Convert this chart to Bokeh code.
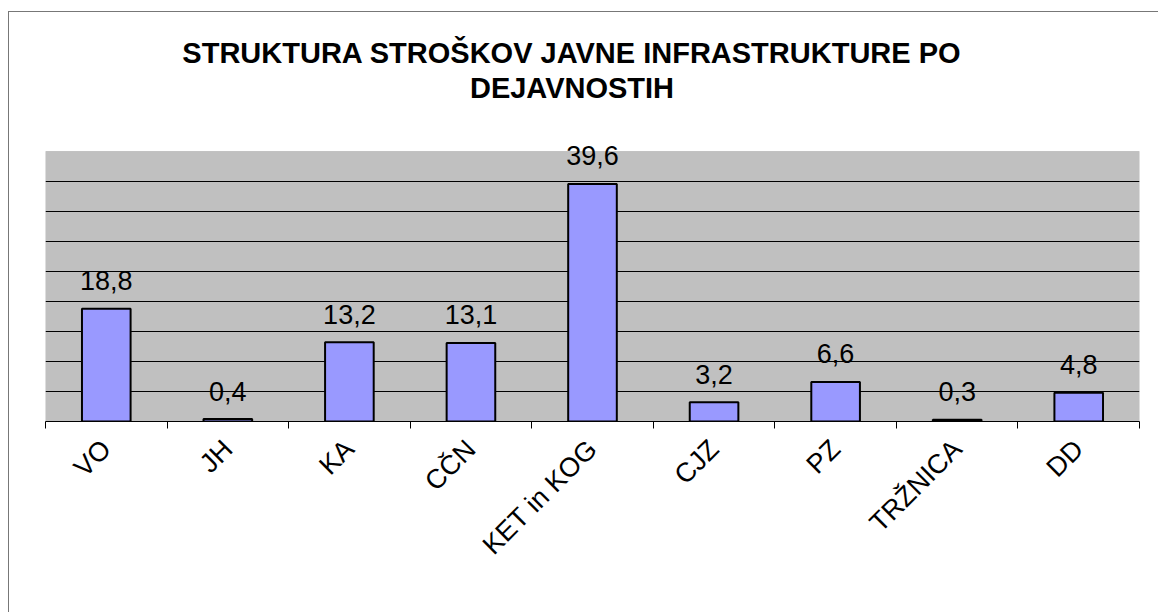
from math import pi
from bokeh.plotting import figure
from bokeh.models import (ColumnDataSource, Range1d, LinearAxis, FixedTicker,
                          Label, BoxAnnotation)
from bokeh.core.properties import value
from bokeh.embed import file_html
from bokeh.resources import INLINE

categories = ["VO", "JH", "KA", "CČN", "KET in KOG", "CJZ", "PZ", "TRŽNICA", "DD"]
values = [18.8, 0.4, 13.2, 13.1, 39.6, 3.2, 6.6, 0.3, 4.8]
value_labels = [f"{v:.1f}".replace(".", ",") for v in values]
title_lines = ["STRUKTURA STROŠKOV JAVNE INFRASTRUKTURE PO", "DEJAVNOSTIH"]
y_max = 45
y_step = 5

FONT = "Liberation Sans"

# layout (pixels)
FRAME_H = 401        # frame covers title area + plot area
PLOT_H = 270         # height of the grey plot area

n = len(categories)
pos = [i + 1 for i in range(n)]          # category slots 1..n
bounds = [i + 0.5 for i in range(n + 1)]  # slot boundaries

src = ColumnDataSource(dict(x=pos, cat=categories, val=values, lab=value_labels))

p = figure(x_range=Range1d(0.5, n + 0.5),
           y_range=Range1d(0, y_max * FRAME_H / PLOT_H),
           width=1150, height=601, output_backend="svg", toolbar_location=None,
           x_axis_location=None, y_axis_location=None,
           min_border_left=36, min_border_right=20, min_border_top=8,
           min_border_bottom=192)
p.styles = {"border-left": "1px solid #777777", "border-top": "1px solid #777777",
            "margin-top": "11px", "margin-left": "8px"}

p.background_fill_color = "white"
p.border_fill_color = "white"
p.outline_line_color = None

# grey plot area
p.add_layout(BoxAnnotation(bottom=0, top=y_max, fill_color="#C0C0C0", fill_alpha=1,
                           line_color="#808080", line_width=1, level="image"))

p.xgrid.visible = False
p.ygrid.ticker = FixedTicker(ticks=list(range(y_step, y_max, y_step)))
p.ygrid.grid_line_color = "black"
p.ygrid.grid_line_width = 1

p.vbar(x="x", top="val", width=0.4, source=src, fill_color="#9999FF",
       line_color="black", line_width=2)

p.text(x="x", y="val", text="lab", source=src, y_offset=-28,
       text_align="center", text_baseline="alphabetic",
       text_font=value(FONT), text_font_size="27px", text_color="black")

xaxis = LinearAxis(ticker=FixedTicker(ticks=pos, minor_ticks=bounds),
                   major_label_overrides={float(x): c for x, c in zip(pos, categories)},
                   major_tick_in=0, major_tick_out=0,
                   minor_tick_in=0, minor_tick_out=7,
                   minor_tick_line_color="black",
                   axis_line_color="black", axis_line_width=1,
                   major_label_orientation=pi / 4,
                   major_label_text_font=FONT,
                   major_label_text_font_size="27px",
                   major_label_text_color="black",
                   major_label_standoff=16)
p.add_layout(xaxis, "below")

title_y = [369, 333.5]
for line, ty in zip(title_lines, title_y):
    p.add_layout(Label(x=526.5, y=ty, x_units="screen", y_units="screen",
                       text=line, text_align="center", text_baseline="alphabetic",
                       text_font=FONT, text_font_size="29px",
                       text_font_style="bold", text_color="black"))

open("out.html", "w").write(file_html(p, INLINE))
